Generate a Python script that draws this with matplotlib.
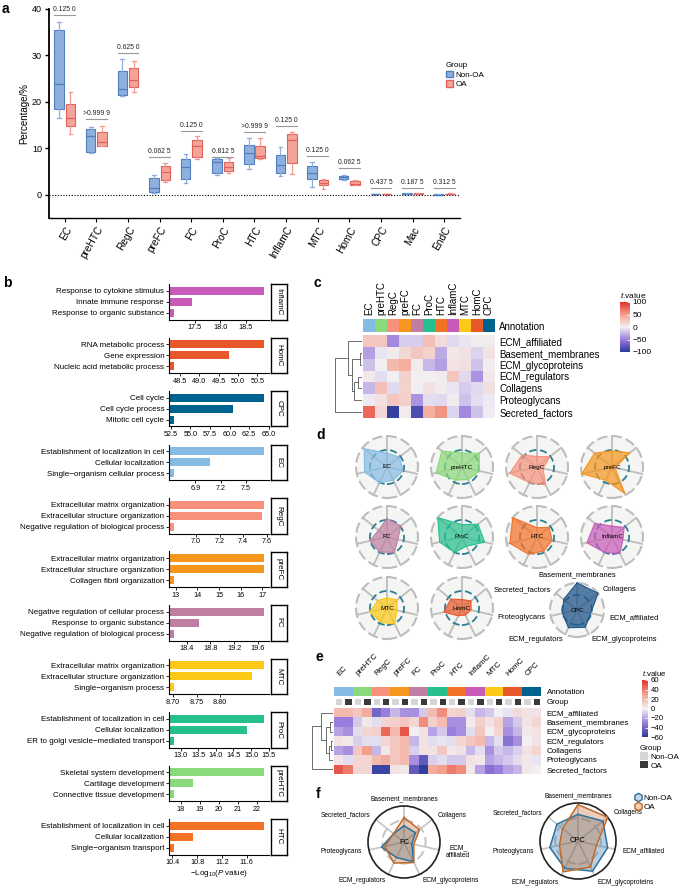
import numpy as np
import matplotlib
matplotlib.use('Agg')
import matplotlib.pyplot as plt
from matplotlib.patches import Patch, Circle
from matplotlib.lines import Line2D
from matplotlib.colors import LinearSegmentedColormap, ListedColormap, Normalize
from matplotlib.cm import ScalarMappable

plt.rcParams['font.family'] = ['Liberation Sans', 'DejaVu Sans']
plt.rcParams['mathtext.fontset'] = 'custom'
plt.rcParams['mathtext.rm'] = 'Liberation Sans'
plt.rcParams['mathtext.it'] = 'Liberation Sans:italic'

W, H = 685, 889

# ---------------- data ----------------
cell_colors = {'EC': '#86bce4', 'preHTC': '#8ad97a', 'RegC': '#f8927c', 'preFC': '#f5961d',
               'FC': '#bf7fa2', 'ProC': '#26bf8e', 'HTC': '#f37226', 'InflamC': '#c85bb8',
               'MTC': '#fcc917', 'HomC': '#e8582a', 'CPC': '#00628f'}

# panel a: box stats (whislo, q1, med, q3, whishi)
a_cats = ['EC', 'preHTC', 'RegC', 'preFC', 'FC', 'ProC', 'HTC', 'InflamC', 'MTC', 'HomC', 'CPC', 'Mac', 'EndC']
a_non = [(16.5, 18.4, 23.9, 35.5, 37.2), (8.9, 9.2, 12.7, 14.1, 14.5), (21.2, 21.4, 22.8, 26.7, 29.2),
         (0.3, 0.5, 1.4, 3.6, 4.3), (2.6, 3.3, 6.0, 7.7, 8.8), (4.3, 4.6, 7.1, 7.8, 8.0),
         (5.6, 6.7, 9.0, 10.8, 12.2), (4.0, 4.6, 6.5, 8.5, 10.3), (1.6, 3.3, 4.7, 6.2, 7.1),
         (3.1, 3.4, 3.8, 4.1, 4.3), (0.05, 0.08, 0.12, 0.18, 0.22), (0.08, 0.12, 0.2, 0.28, 0.35),
         (0.02, 0.03, 0.05, 0.07, 0.09)]
a_oa = [(13.0, 14.8, 16.6, 19.5, 22.1), (10.4, 10.6, 11.3, 13.6, 14.8), (22.2, 23.2, 24.7, 27.3, 28.7),
        (2.8, 3.2, 5.0, 6.2, 6.9), (7.6, 8.2, 10.6, 11.8, 12.6), (4.7, 5.2, 5.9, 7.0, 7.9),
        (7.8, 8.0, 8.3, 10.5, 12.2), (4.5, 6.9, 11.8, 13.1, 13.6), (1.3, 2.1, 2.6, 3.2, 3.5),
        (2.0, 2.2, 2.4, 3.0, 3.2), (0.05, 0.08, 0.12, 0.16, 0.2), (0.1, 0.15, 0.22, 0.28, 0.33),
        (0.08, 0.12, 0.16, 0.22, 0.28)]
a_pvals = ['0.125 0', '>0.999 9', '0.625 0', '0.062 5', '0.125 0', '0.812 5', '>0.999 9',
           '0.125 0', '0.125 0', '0.062 5', '0.437 5', '0.187 5', '0.312 5']
a_bracket = [38.7, 16.4, 30.6, 8.2, 13.8, 8.1, 13.5, 14.9, 8.4, 5.7, 1.4, 1.4, 1.4]

# panel b: GO terms, -log10 p
b_groups = ['InflamC', 'HomC', 'CPC', 'EC', 'RegC', 'preFC', 'FC', 'MTC', 'ProC', 'preHTC', 'HTC']
b_terms = [
    ['Response to cytokine stimulus', 'Innate immune response', 'Response to organic substance'],
    ['RNA metabolic process', 'Gene expression', 'Nucleic acid metabolic process'],
    ['Cell cycle', 'Cell cycle process', 'Mitotic cell cycle'],
    ['Establishment of localization in cell', 'Cellular localization', 'Single\u2212organism cellular process'],
    ['Extracellular matrix organization', 'Extracellular structure organization', 'Negative regulation of biological process'],
    ['Extracellular matrix organization', 'Extracellular structure organization', 'Collagen fibril organization'],
    ['Negative regulation of cellular process', 'Response to organic substance', 'Negative regulation of biological process'],
    ['Extracellular matrix organization', 'Extracellular structure organization', 'Single\u2212organism process'],
    ['Establishment of localization in cell', 'Cellular localization', 'ER to golgi vesicle\u2212mediated transport'],
    ['Skeletal system development', 'Cartilage development', 'Connective tissue development'],
    ['Establishment of localization in cell', 'Cellular localization', 'Single\u2212organism transport'],
]
b_values = [[18.87, 17.45, 17.08], [50.68, 49.77, 48.34], [64.45, 60.45, 52.85], [7.72, 7.07, 6.64],
            [7.58, 7.56, 6.81], [17.10, 17.07, 12.90], [19.71, 18.60, 18.18], [8.895, 8.868, 8.701],
            [15.38, 14.88, 12.80], [22.41, 18.63, 17.62], [11.89, 10.74, 10.42]]
b_ticks = [['17.5', '18.0', '18.5'], ['48.5', '49.0', '49.5', '50.0', '50.5'],
           ['52.5', '55.0', '57.5', '60.0', '62.5', '65.0'], ['6.9', '7.2', '7.5'],
           ['7.0', '7.2', '7.4', '7.6'], ['13', '14', '15', '16', '17'], ['18.4', '18.8', '19.2', '19.6'],
           ['8.70', '8.75', '8.80'], ['13.0', '13.5', '14.0', '14.5', '15.0', '15.5'],
           ['18', '19', '20', '21', '22'], ['10.4', '10.8', '11.2', '11.6']]

# panel c / e heatmaps
hm_rows = ['ECM_affiliated', 'Basement_membranes', 'ECM_glycoproteins', 'ECM_regulators',
           'Collagens', 'Proteoglycans', 'Secreted_factors']
hm_cols = ['EC', 'preHTC', 'RegC', 'preFC', 'FC', 'ProC', 'HTC', 'InflamC', 'MTC', 'HomC', 'CPC']
c_values = [
    [25, 25, -45, -15, -15, 30, 12, -10, -5, 3, 3],
    [-35, -5, 3, 15, 25, 18, -30, 5, 8, -12, 8],
    [-20, 0, 35, 40, 3, -25, -35, 8, 10, -20, 2],
    [5, -8, 0, 20, 0, 0, 3, 25, -10, -40, 5],
    [-25, 30, -10, 18, 0, 10, 3, -5, -15, -10, 10],
    [-3, 10, 25, 20, -40, -8, -10, 3, -20, -8, -3],
    [75, 15, -95, 3, -85, 40, 55, -12, -45, -20, -2],
]
e_values = [
    [20, 20, 15, 25, -40, -30, -15, -25, -25, -10, 20, 35, 10, 12, -5, -15, -10, 0, -3, 8, 5, 5],
    [-30, -30, -10, 3, -5, 10, 12, 15, 10, 35, 12, 20, -25, -25, 2, 12, 5, 12, -20, -10, 5, 10],
    [-20, -25, -5, 10, 12, 45, 20, 50, 0, 5, -20, -10, -30, -25, -5, 15, 0, 10, -25, -15, 3, 5],
    [5, 3, -8, -5, -5, 10, 15, 20, -15, 5, -5, -3, -5, 10, 15, 20, -15, -5, -35, -25, 0, 5],
    [-20, -25, 15, 30, -15, 3, 15, 20, -8, 5, 5, 15, 3, 5, -15, -5, -25, -10, -15, -8, 5, 10],
    [5, -5, 10, 10, 20, 25, 15, 20, -25, -45, -8, -5, -10, -10, 5, 3, -20, -15, -10, -5, 3, -3],
    [50, 40, 10, 10, -55, -55, 5, 3, -45, -58, 25, 30, 40, 35, 3, -20, -35, -30, -20, -15, 3, 0],
]
c_links = [(1, 2, 2), (3, 4, 4), (8, 5, 7), (7, 9, 9), (0, 10, 13), (6, 11, 25)]
e_links = [(1, 2, 3), (3, 4, 2), (8, 5, 4), (7, 9, 6), (0, 10, 11), (6, 11, 19)]

# panel d radars (fraction of outer radius), axis order below
radar_axes = ['Basement_membranes', 'Collagens', 'ECM_affiliated', 'ECM_glycoproteins',
              'ECM_regulators', 'Proteoglycans', 'Secreted_factors']
d_values = {
    'EC': [0.45, 0.51, 0.53, 0.47, 0.56, 0.74, 0.94],
    'preHTC': [0.45, 0.71, 0.58, 0.45, 0.47, 0.86, 0.83],
    'RegC': [0.34, 0.53, 0.20, 0.64, 0.56, 0.90, 0.62],
    'preFC': [0.52, 0.74, 0.10, 0.95, 0.47, 1.00, 0.72],
    'FC': [0.59, 0.57, 0.36, 0.55, 0.54, 0.56, 0.35],
    'ProC': [0.40, 0.66, 0.75, 0.33, 0.55, 0.74, 1.00],
    'HTC': [0.30, 0.50, 0.50, 0.50, 0.62, 0.90, 1.00],
    'InflamC': [0.35, 0.50, 0.36, 0.59, 0.55, 0.83, 0.71],
    'MTC': [0.33, 0.42, 0.33, 0.58, 0.50, 0.57, 0.38],
    'HomC': [0.27, 0.37, 0.30, 0.25, 0.28, 0.60, 0.46],
    'CPC': [1.00, 1.00, 0.52, 0.71, 0.73, 0.55, 0.63],
}
# panel f radars
f_fc_non = [0.45, 0.41, 0.22, 0.61, 0.48, 0.64, 0.37]
f_fc_oa = [0.68, 0.55, 0.28, 0.63, 0.65, 0.55, 0.37]
f_cpc_non = [0.70, 0.84, 0.80, 0.88, 0.80, 0.76, 0.71]
f_cpc_oa = [0.96, 1.00, 0.50, 0.76, 0.90, 0.50, 0.52]

# ---------------- helpers ----------------
fig = plt.figure(figsize=(6.85, 8.89), dpi=100)


def add_px(x0, y0, x1, y1):
    return fig.add_axes([x0 / W, 1 - y1 / H, (x1 - x0) / W, (y1 - y0) / H])


def letter(x, y, s):
    fig.text(x / W, 1 - y / H, s, fontsize=10, fontweight='bold', va='top', ha='left')


t_cmap = LinearSegmentedColormap.from_list('t', ['#2b3a9b', '#9a7ddc', '#f2f0f4', '#f5a08e', '#e0322a'])


def dendro(ax, links, n, top):
    pos = {i: float(i) for i in range(n)}
    hgt = {i: 0.0 for i in range(n)}
    for k, (a, b, h) in enumerate(links):
        ax.plot([hgt[a], h, h, hgt[b]], [pos[a], pos[a], pos[b], pos[b]], color='#555555', lw=0.6)
        pos[n + k] = (pos[a] + pos[b]) / 2
        hgt[n + k] = h
    ax.set_ylim(n - 0.5, -0.5)
    ax.set_xlim(top, 0)
    ax.axis('off')


angles = np.deg2rad(90 - np.arange(7) * 360 / 7)


def radar_base(ax, lim):
    ax.set_xlim(-lim, lim)
    ax.set_ylim(-lim, lim)
    ax.set_aspect('equal')
    ax.axis('off')


def colorbar(cax, norm, ticks, lab_size):
    cb = fig.colorbar(ScalarMappable(norm=norm, cmap=t_cmap), cax=cax, ticks=ticks)
    cb.outline.set_visible(False)
    cax.tick_params(direction='in', color='white', length=2, width=0.6, labelsize=lab_size, pad=2)
    cax.set_title(r'$t$.value', fontsize=lab_size, loc='left', pad=3)


# ---------------- panel a ----------------
letter(2, 2, 'a')
axA = add_px(49, 9, 460, 218)
pos = np.arange(len(a_cats))


def stats(rows):
    return [dict(whislo=r[0], q1=r[1], med=r[2], q3=r[3], whishi=r[4]) for r in rows]


for rows, off, fc, ec, wc in [(a_non, -0.18, '#8fb0dc', '#4f7fc0', '#8fb0dc'),
                              (a_oa, 0.18, '#f5a49a', '#e0605a', '#f29a90')]:
    axA.bxp(stats(rows), positions=pos + off, widths=0.3, patch_artist=True, showfliers=False,
            manage_ticks=False, capwidths=0.12,
            boxprops=dict(facecolor=fc, edgecolor=ec, linewidth=0.8),
            whiskerprops=dict(color=wc, linewidth=0.9),
            capprops=dict(color=wc, linewidth=0.9),
            medianprops=dict(color=ec, linewidth=0.9))
for i in range(len(a_cats)):
    axA.plot([i - 0.33, i + 0.33], [a_bracket[i], a_bracket[i]], color='#999999', lw=0.8)
    axA.text(i, a_bracket[i] + 0.4, a_pvals[i], ha='center', va='bottom', fontsize=4.9, color='#222222')
axA.axhline(0, color='black', ls=(0, (1, 1.5)), lw=0.8)
axA.set_xlim(-0.5, 12.5)
axA.set_ylim(-5, 40)
axA.set_yticks([0, 10, 20, 30, 40])
axA.set_xticks(pos)
axA.set_xticklabels(a_cats, rotation=60, ha='right', va='top', rotation_mode='anchor', fontsize=7.3)
axA.tick_params(axis='y', labelsize=6.5, length=3, width=1, pad=2)
axA.tick_params(axis='x', length=3, width=0.8, pad=2)
axA.spines['top'].set_visible(False)
axA.spines['right'].set_visible(False)
axA.spines['left'].set_linewidth(1.3)
axA.spines['bottom'].set_linewidth(1.0)
axA.set_ylabel('Percentage/%', fontsize=7, labelpad=2)
fig.legend(handles=[Patch(facecolor='#8fb0dc', edgecolor='#4f7fc0', label='Non-OA'),
                    Patch(facecolor='#f5a49a', edgecolor='#e0605a', label='OA')],
           title='Group', loc='upper left', bbox_to_anchor=(446 / W, 1 - 62 / H), frameon=False,
           fontsize=5.8, title_fontsize=5.8, handlelength=0.9, handleheight=0.9,
           alignment='left', labelspacing=0.2, handletextpad=0.3, borderaxespad=0, borderpad=0)

# ---------------- panel b ----------------
letter(3, 276, 'b')
for i, g in enumerate(b_groups):
    top = 284 + 53.5 * i
    ax = add_px(169, top, 269, top + 35.5)
    vals = np.array(b_values[i])
    d = vals.max() - vals.min()
    lo, hi = vals.min() - 0.05 * d, vals.max() + 0.05 * d
    ax.barh([3, 2, 1], vals - lo, left=lo, height=0.7, color=cell_colors[g])
    ax.set_xlim(lo, hi)
    ax.set_ylim(0.4, 3.6)
    ax.set_yticks([3, 2, 1])
    ax.set_yticklabels(b_terms[i], fontsize=5.8)
    ax.set_xticks([float(t) for t in b_ticks[i]])
    ax.set_xticklabels(b_ticks[i], fontsize=5.2)
    ax.tick_params(length=2, width=0.6, pad=1.5)
    for s in ['top', 'right']:
        ax.spines[s].set_visible(False)
    for s in ['left', 'bottom']:
        ax.spines[s].set_linewidth(0.8)
    st = add_px(271, top, 287, top + 35.5)
    st.set_xticks([])
    st.set_yticks([])
    for s in st.spines.values():
        s.set_linewidth(1.0)
    st.text(0.5, 0.5, g, rotation=270, ha='center', va='center', fontsize=5.8, transform=st.transAxes)
    if i == len(b_groups) - 1:
        ax.set_xlabel(r'$-$Log$_{10}$($P$ value)', fontsize=5.8, labelpad=1.5)

# ---------------- panel c ----------------
letter(314, 276, 'c')
ncol = len(hm_cols)
c_ann = add_px(363, 319, 495, 332)
c_ann.imshow([np.arange(ncol)], cmap=ListedColormap([cell_colors[c] for c in hm_cols]),
             aspect='auto', interpolation='nearest')
c_ann.set_xticks(np.arange(ncol))
c_ann.set_xticklabels(hm_cols, rotation=90, fontsize=7)
c_ann.xaxis.tick_top()
c_ann.set_yticks([0])
c_ann.set_yticklabels(['Annotation'], fontsize=7)
c_ann.yaxis.tick_right()
c_ann.tick_params(length=0, pad=3)
for s in c_ann.spines.values():
    s.set_visible(False)

c_norm = Normalize(-100, 100)
c_hm = add_px(363, 335, 495, 418)
c_hm.imshow(c_values, cmap=t_cmap, norm=c_norm, aspect='auto', interpolation='nearest')
c_hm.set_xticks([])
c_hm.set_yticks(np.arange(len(hm_rows)))
c_hm.set_yticklabels(hm_rows, fontsize=7)
c_hm.yaxis.tick_right()
c_hm.tick_params(length=0, pad=3)
for s in c_hm.spines.values():
    s.set_visible(False)
dendro(add_px(333, 335, 362, 418), c_links, len(hm_rows), 27)
colorbar(add_px(620, 302, 630, 352), c_norm, [100, 50, 0, -50, -100], 6)

# ---------------- panel d ----------------
letter(316, 428, 'd')
d_layout = [('EC', 387, 467), ('preHTC', 462, 467), ('RegC', 537, 467), ('preFC', 612, 467),
            ('FC', 387, 537), ('ProC', 462, 537), ('HTC', 537, 537), ('InflamC', 612, 537),
            ('MTC', 387, 608), ('HomC', 462, 608), ('CPC', 577, 610)]
for name, cx, cy in d_layout:
    R = 27 if name == 'CPC' else 31
    S = R * 1.1
    ax = add_px(cx - S, cy - S, cx + S, cy + S)
    radar_base(ax, 1.1)
    ax.add_patch(Circle((0, 0), 1, facecolor='#f5f5f3', edgecolor='none', zorder=0))
    for a in angles:
        ax.plot([0, np.cos(a)], [0, np.sin(a)], color='#bdbdbd', lw=1.3, zorder=1)
    ax.add_patch(Circle((0, 0), 1, fill=False, edgecolor='#bdbdbd', lw=1.5, ls=(0, (5, 2)), zorder=2))
    ax.add_patch(Circle((0, 0), 0.55, fill=False, edgecolor='#2c7f93', lw=1.3, ls=(0, (4, 2)), zorder=2))
    r = np.array(d_values[name])
    xs, ys = r * np.cos(angles), r * np.sin(angles)
    col = '#1f5588' if name == 'CPC' else cell_colors[name]
    ax.fill(xs, ys, color=col, alpha=0.72 if name != 'CPC' else 0.75, zorder=3, lw=0)
    ax.plot(np.append(xs, xs[0]), np.append(ys, ys[0]), color=col, lw=0.8, zorder=4)
    ax.text(0, 0, name, ha='center', va='center', fontsize=4.6, zorder=5)
    if name == 'CPC':
        for a, lab in zip(angles, radar_axes):
            c = np.cos(a)
            ha = 'center' if abs(c) < 0.2 else ('left' if c > 0 else 'right')
            rr = 1.3 if abs(c) < 0.2 else 1.22
            ax.text(rr * c, rr * np.sin(a), lab, ha=ha, va='center', fontsize=5.4)

# ---------------- panel e ----------------
letter(316, 650, 'e')
e_ann = add_px(334, 687, 541, 696)
e_ann.imshow([np.repeat(np.arange(ncol), 2)], cmap=ListedColormap([cell_colors[c] for c in hm_cols]),
             aspect='auto', interpolation='nearest')
e_ann.set_xticks([])
e_ann.set_yticks([0])
e_ann.set_yticklabels(['Annotation'], fontsize=5.8)
e_ann.yaxis.tick_right()
e_ann.tick_params(length=0, pad=4)
for s in e_ann.spines.values():
    s.set_visible(False)
for j, c in enumerate(hm_cols):
    e_ann.text(2 * j + 0.2, -1.6, c, rotation=45, ha='left', va='bottom', rotation_mode='anchor',
               fontsize=5.8)

e_grp = add_px(334, 697, 541, 706)
e_grp.pcolormesh([np.tile([0, 1], ncol)], cmap=ListedColormap(['#d6d6d6', '#3a3a3a']),
                 edgecolors='white', linewidth=0.8)
e_grp.set_xlim(0, 2 * ncol)
e_grp.set_xticks([])
e_grp.set_yticks([0.5])
e_grp.set_yticklabels(['Group'], fontsize=5.8)
e_grp.yaxis.tick_right()
e_grp.tick_params(length=0, pad=4)
for s in e_grp.spines.values():
    s.set_visible(False)

e_norm = Normalize(-60, 60)
e_hm = add_px(334, 708, 541, 774)
e_hm.imshow(e_values, cmap=t_cmap, norm=e_norm, aspect='auto', interpolation='nearest')
e_hm.set_xticks([])
e_hm.set_yticks(np.arange(len(hm_rows)))
e_hm.set_yticklabels(hm_rows, fontsize=5.8)
e_hm.yaxis.tick_right()
e_hm.tick_params(length=0, pad=4)
for s in e_hm.spines.values():
    s.set_visible(False)
dendro(add_px(311, 708, 333, 774), e_links, len(hm_rows), 20)
colorbar(add_px(642, 680, 648, 737), e_norm, [60, 40, 20, 0, -20, -40, -60], 5.6)
fig.legend(handles=[Patch(facecolor='#d6d6d6', label='Non-OA'), Patch(facecolor='#3a3a3a', label='OA')],
           title='Group', loc='upper left', bbox_to_anchor=(640 / W, 1 - 745 / H), frameon=False,
           fontsize=5.8, title_fontsize=5.8, handlelength=1.0, handleheight=1.0, alignment='left',
           labelspacing=0.05, handletextpad=0.3, borderaxespad=0, borderpad=0)

# ---------------- panel f ----------------
letter(316, 787, 'f')
f_layout = [('FC', 404, 842, 36, f_fc_non, f_fc_oa), ('CPC', 578, 841, 38, f_cpc_non, f_cpc_oa)]
for name, cx, cy, R, non, oa in f_layout:
    S = R * 1.05
    ax = add_px(cx - S, cy - S, cx + S, cy + S)
    radar_base(ax, 1.05)
    for a in angles:
        ax.plot([0, np.cos(a)], [0, np.sin(a)], color='#c4c4c4', lw=1.2, zorder=1)
    ax.add_patch(Circle((0, 0), 0.6, fill=False, edgecolor='#c4c4c4', lw=1.4, ls=(0, (5, 2.5)), zorder=1))
    ax.add_patch(Circle((0, 0), 1, fill=False, edgecolor='#222222', lw=1.2, zorder=2))
    for vals, col in [(non, '#2b6f9e'), (oa, '#c0692a')]:
        r = np.array(vals)
        xs, ys = r * np.cos(angles), r * np.sin(angles)
        ax.fill(xs, ys, color=col, alpha=0.33, lw=0, zorder=3)
        ax.plot(np.append(xs, xs[0]), np.append(ys, ys[0]), color=col, lw=1.1, zorder=4)
    ax.text(0, 0, name, ha='center', va='center', fontsize=5.4, zorder=5)
    for a, lab in zip(angles, radar_axes):
        if name == 'FC' and lab == 'ECM_affiliated':
            lab = 'ECM_\naffiliated'
        c = np.cos(a)
        ha = 'center' if abs(c) < 0.2 else ('left' if c > 0 else 'right')
        ax.text(1.2 * c, 1.2 * np.sin(a), lab, ha=ha, va='center', fontsize=4.7, multialignment='center')
fig.legend(handles=[Line2D([], [], ls='none', marker='h', markersize=6, markerfacecolor='#c9d8e6',
                           markeredgecolor='#2b6f9e', label='Non-OA'),
                    Line2D([], [], ls='none', marker='h', markersize=6, markerfacecolor='#f0d2bc',
                           markeredgecolor='#c0692a', label='OA')],
           loc='upper left', bbox_to_anchor=(635 / W, 1 - 794 / H), frameon=False, fontsize=5.8,
           handlelength=0.8, labelspacing=0.2, handletextpad=0.3, borderaxespad=0, borderpad=0)

fig.savefig('out.png', dpi=100)
